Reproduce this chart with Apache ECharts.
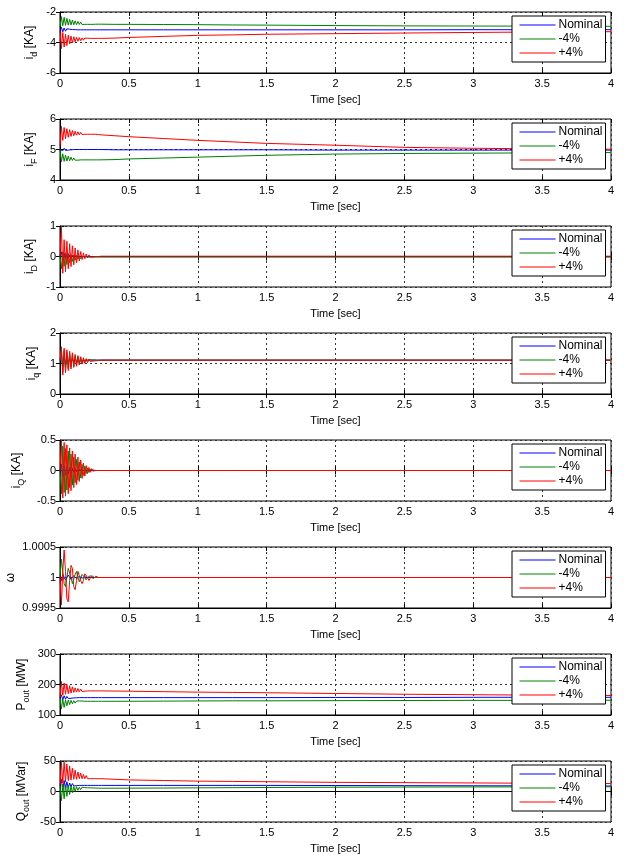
<!DOCTYPE html>
<html>
<head>
<meta charset="utf-8">
<script src="https://cdn.jsdelivr.net/npm/echarts@6/dist/echarts.min.js"></script>
<style>
  html, body { margin: 0; padding: 0; background: #fff; }
  #chart { width: 628px; height: 856px; }
</style>
</head>
<body>
<div id="chart"></div>
<script>
// sample times [s]: dense during the transient, coarse afterwards
const time = [
  0, 0.01, 0.02, 0.03, 0.04, 0.05, 0.06, 0.07, 0.08, 0.09, 0.10,
  0.11, 0.12, 0.13, 0.14, 0.15, 0.16, 0.17, 0.18, 0.19, 0.20,
  0.21, 0.22, 0.23, 0.24, 0.25, 0.26, 0.27, 0.28, 0.29, 0.30,
  0.4, 0.5, 0.75, 1, 1.25, 1.5, 2, 2.5, 3, 3.5, 4
]

const legendNames = ['Nominal', '-4%', '+4%']
const xTicks = [0, 0.5, 1, 1.5, 2, 2.5, 3, 3.5, 4]

// i_d [KA]
const idTicks = [-6, -4, -2]
const idNominal = [
  -3.2, -3.0, -3.3, -3.05, -3.26, -3.1, -3.22, -3.13, -3.2, -3.15, -3.18,
  -3.16, -3.17, -3.17, -3.17, -3.17, -3.17, -3.17, -3.17, -3.17, -3.17,
  -3.17, -3.17, -3.17, -3.17, -3.17, -3.17, -3.17, -3.17, -3.17, -3.17,
  -3.17, -3.17, -3.17, -3.17, -3.17, -3.17, -3.17, -3.17, -3.16, -3.16, -3.16
]
const idMinus = [
  -3.0, -2.3, -2.9, -2.35, -2.88, -2.42, -2.86, -2.48, -2.85, -2.53, -2.84,
  -2.58, -2.83, -2.62, -2.82, -2.66, -2.82, -2.7, -2.81, -2.72, -2.81,
  -2.74, -2.81, -2.76, -2.81, -2.77, -2.8, -2.78, -2.8, -2.79, -2.8,
  -2.81, -2.81, -2.82, -2.83, -2.85, -2.86, -2.89, -2.91, -2.92, -2.93, -2.94
]
const idPlus = [
  -3.2, -4.4, -3.35, -4.3, -3.45, -4.2, -3.52, -4.1, -3.58, -4.02, -3.62,
  -3.96, -3.66, -3.92, -3.68, -3.88, -3.7, -3.85, -3.71, -3.82, -3.72,
  -3.8, -3.73, -3.78, -3.73, -3.77, -3.73, -3.76, -3.73, -3.75, -3.73,
  -3.71, -3.67, -3.6, -3.53, -3.5, -3.46, -3.42, -3.38, -3.34, -3.31, -3.29
]

// i_F [KA]
const ifTicks = [4, 5, 6]
const ifNominal = [
  5.0, 5.06, 4.96, 5.04, 4.97, 5.02, 4.98, 5.01, 4.99, 5.0, 5.0,
  5.0, 5.0, 5.0, 5.0, 5.0, 5.0, 5.0, 5.0, 5.0, 5.0,
  5.0, 5.0, 5.0, 5.0, 5.0, 5.0, 5.0, 5.0, 5.0, 5.0,
  4.99, 4.99, 4.99, 4.99, 4.99, 4.99, 4.98, 4.98, 4.98, 4.98, 4.98
]
const ifMinus = [
  5.0, 4.6, 4.86, 4.61, 4.82, 4.62, 4.78, 4.63, 4.75, 4.64, 4.72,
  4.65, 4.7, 4.65, 4.69, 4.66, 4.68, 4.66, 4.67, 4.66, 4.67,
  4.66, 4.66, 4.66, 4.66, 4.66, 4.66, 4.66, 4.66, 4.66, 4.66,
  4.67, 4.69, 4.72, 4.75, 4.78, 4.81, 4.85, 4.87, 4.88, 4.89, 4.9
]
const ifPlus = [
  5.1, 5.76, 5.3, 5.72, 5.35, 5.68, 5.4, 5.65, 5.43, 5.62, 5.45,
  5.6, 5.47, 5.58, 5.48, 5.56, 5.49, 5.55, 5.5, 5.54, 5.5,
  5.53, 5.5, 5.52, 5.5, 5.51, 5.5, 5.5, 5.49, 5.49, 5.48,
  5.45, 5.42, 5.36, 5.3, 5.25, 5.2, 5.14, 5.07, 5.04, 5.02, 5.01
]

// i_D [KA]
const iDTicks = [-1, 0, 1]
const iDNominal = [
  0, 0.15, -0.12, 0.1, -0.09, 0.07, -0.06, 0.05, -0.04, 0.03, -0.02,
  0.02, -0.01, 0.01, 0, 0, 0, 0, 0, 0, 0,
  0, 0, 0, 0, 0, 0, 0, 0, 0, 0,
  0, 0, 0, 0, 0, 0, 0, 0, 0, 0, 0
]
const iDMinus = [
  0, -0.4, 0.15, -0.32, 0.12, -0.26, 0.1, -0.2, 0.07, -0.16, 0.05,
  -0.12, 0.03, -0.09, 0.02, -0.07, 0, -0.05, -0.01, -0.04, -0.02,
  -0.03, -0.02, -0.03, -0.02, -0.02, -0.02, -0.02, -0.02, -0.02, -0.02,
  -0.02, -0.02, -0.02, -0.02, -0.02, -0.02, -0.02, -0.02, -0.02, -0.02, -0.02
]
const iDPlus = [
  0, 1.0, -0.55, 0.55, -0.5, 0.5, -0.4, 0.42, -0.33, 0.35, -0.27,
  0.28, -0.2, 0.22, -0.15, 0.16, -0.1, 0.12, -0.07, 0.08, -0.04,
  0.05, -0.02, 0.03, -0.01, 0.02, 0, 0.01, 0, 0.01, 0.01,
  0.01, 0.01, 0.01, 0.01, 0.01, 0.01, 0.01, 0.01, 0.01, 0.01, 0.01
]

// i_q [KA]
const iqTicks = [0, 1, 2]
const iqNominal = [
  1.1, 1.3, 0.9, 1.26, 0.95, 1.22, 0.99, 1.18, 1.02, 1.15, 1.05,
  1.14, 1.07, 1.13, 1.08, 1.12, 1.09, 1.11, 1.1, 1.11, 1.11,
  1.11, 1.11, 1.11, 1.11, 1.11, 1.11, 1.11, 1.11, 1.11, 1.11,
  1.11, 1.11, 1.11, 1.11, 1.11, 1.11, 1.11, 1.11, 1.11, 1.11, 1.11
]
const iqMinus = [
  1.1, 1.45, 0.72, 1.42, 0.78, 1.37, 0.84, 1.32, 0.88, 1.28, 0.92,
  1.25, 0.95, 1.22, 0.98, 1.19, 1.01, 1.16, 1.03, 1.14, 1.05,
  1.13, 1.07, 1.12, 1.08, 1.12, 1.09, 1.11, 1.1, 1.11, 1.11,
  1.11, 1.11, 1.11, 1.11, 1.11, 1.11, 1.11, 1.11, 1.11, 1.11, 1.11
]
const iqPlus = [
  1.1, 1.55, 0.62, 1.5, 0.7, 1.45, 0.77, 1.4, 0.82, 1.35, 0.87,
  1.3, 0.91, 1.26, 0.95, 1.22, 0.98, 1.19, 1.01, 1.16, 1.03,
  1.14, 1.07, 1.13, 1.08, 1.12, 1.09, 1.12, 1.1, 1.11, 1.11,
  1.11, 1.11, 1.11, 1.11, 1.11, 1.11, 1.11, 1.11, 1.11, 1.11, 1.11
]

// i_Q [KA]
const iQTicks = [-0.5, 0, 0.5]
const iQNominal = [
  0, 0.1, -0.1, 0.08, -0.08, 0.06, -0.06, 0.05, -0.05, 0.04, -0.03,
  0.03, -0.02, 0.02, -0.01, 0.01, 0, 0, 0, 0, 0,
  0, 0, 0, 0, 0, 0, 0, 0, 0, 0,
  0, 0, 0, 0, 0, 0, 0, 0, 0, 0, 0
]
const iQMinus = [
  0, -0.38, 0.4, -0.36, 0.36, -0.32, 0.32, -0.28, 0.27, -0.24, 0.22,
  -0.2, 0.18, -0.16, 0.14, -0.12, 0.1, -0.08, 0.07, -0.05, 0.04,
  -0.03, 0.02, -0.01, 0.01, 0, 0, 0, 0, 0, 0,
  0, 0, 0, 0, 0, 0, 0, 0, 0, 0, 0
]
const iQPlus = [
  0, 0.5, -0.45, 0.46, -0.42, 0.42, -0.38, 0.37, -0.33, 0.32, -0.28,
  0.27, -0.23, 0.22, -0.18, 0.17, -0.13, 0.12, -0.09, 0.08, -0.05,
  0.05, -0.03, 0.03, -0.01, 0.01, 0, 0.01, 0, 0, 0,
  0, 0, 0, 0, 0, 0, 0, 0, 0, 0, 0
]

// omega [pu]
const wTicks = [0.9995, 1, 1.0005]
const wNominal = [
  1.0, 0.99995, 1.00005, 1.00005, 0.99996, 0.99996, 1.00004, 1.00004, 0.99997, 0.99997, 1.00003,
  1.00003, 0.99998, 0.99998, 1.00002, 1.00002, 0.99999, 0.99999, 1.00001, 1.00001, 1.0,
  1.0, 1.0, 1.0, 1.0, 1.0, 1.0, 1.0, 1.0, 1.0, 1.0,
  1.0, 1.0, 1.0, 1.0, 1.0, 1.0, 1.0, 1.0, 1.0, 1.0, 1.0
]
const wMinus = [
  1.0, 1.0003, 1.0001, 0.9999, 0.99985, 1.0, 1.00015, 1.00018, 1.0, 0.9999, 0.99992,
  1.00005, 1.0001, 1.0, 0.99993, 0.99995, 1.00005, 1.00006, 1.0, 0.99996, 1.0,
  1.00003, 1.00003, 1.0, 0.99998, 1.0, 1.00002, 1.0, 1.0, 1.0, 1.0,
  1.0, 1.0, 1.0, 1.0, 1.0, 1.0, 1.0, 1.0, 1.0, 1.0, 1.0
]
const wPlus = [
  1.0, 0.99955, 1.0001, 1.00045, 1.0001, 0.99965, 0.9996, 0.99995, 1.0002, 1.00015, 0.99985,
  0.9998, 0.99995, 1.0001, 1.0001, 0.99995, 0.9999, 0.99995, 1.00006, 1.00006, 1.0,
  0.99995, 0.99996, 1.00003, 1.00004, 1.0, 0.99998, 1.0, 1.00002, 1.0, 1.0,
  1.0, 1.0, 1.0, 1.0, 1.0, 1.0, 1.0, 1.0, 1.0, 1.0, 1.0
]

// P_out [MW]
const pTicks = [100, 200, 300]
const pNominal = [
  157, 166, 150, 163, 152, 161, 154, 160, 155, 159, 156,
  158, 156.5, 157.5, 157, 157, 157, 157, 157, 157, 157,
  157, 157, 157, 157, 157, 157, 157, 157, 157, 157,
  157, 157, 157, 157, 157, 157, 157.5, 157.5, 158, 158, 158
]
const pMinus = [
  157, 120, 152, 125, 150, 130, 149, 134, 148, 137, 147,
  139, 146, 141, 146, 142, 146, 143, 145, 144, 145,
  144, 145, 145, 145, 145, 145, 145, 145, 145, 145,
  145, 145, 145.5, 146, 146.5, 146.5, 147, 147.5, 148, 148, 148.5
]
const pPlus = [
  158, 210, 165, 205, 168, 200, 170, 196, 172, 192, 174,
  189, 175, 187, 176, 185, 177, 183, 178, 182, 179,
  181, 179, 180, 179, 180, 179, 179.5, 179, 179, 179,
  178.5, 178, 176.5, 175, 174, 173, 170.5, 168, 166.5, 165, 164
]

// Q_out [MVar]
const qTicks = [-50, 0, 50]
const qNominal = [
  10, 20, 2, 18, 4, 16, 6, 14, 8, 13, 9,
  12, 9.5, 11, 10, 10, 10, 10, 10, 10, 10,
  10, 10, 10, 10, 10, 10, 10, 10, 10, 10,
  10, 10, 10, 10, 10, 10, 9.8, 9.6, 9.4, 9.2, 9
]
const qMinus = [
  10, -15, 12, -12, 11, -8, 10, -5, 9, -2, 8,
  0, 8, 2, 7, 3, 7, 4, 6.5, 4.5, 6,
  5, 6, 5.2, 5.8, 5.3, 5.6, 5.4, 5.5, 5.4, 5.4,
  5.4, 5.5, 5.7, 6, 6.3, 6.6, 7, 7.3, 7.5, 7.6, 7.7
]
const qPlus = [
  10, 50, 14, 48, 16, 45, 18, 42, 19, 38, 20,
  35, 20, 32, 21, 30, 21, 28, 21, 26, 21,
  24, 21, 23, 21, 22, 21, 21.5, 21, 21, 21,
  20, 19, 18, 17, 16.5, 16, 15, 14.5, 14, 13.5, 13
]

// y labels: [symbol, subscript, unit]
const panels = [
  { label: ['i', 'd', ' [KA]'], ticks: idTicks, lines: [idNominal, idMinus, idPlus], gap: 21 },
  { label: ['i', 'F', ' [KA]'], ticks: ifTicks, lines: [ifNominal, ifMinus, ifPlus], gap: 21 },
  { label: ['i', 'D', ' [KA]'], ticks: iDTicks, lines: [iDNominal, iDMinus, iDPlus], gap: 21 },
  { label: ['i', 'q', ' [KA]'], ticks: iqTicks, lines: [iqNominal, iqMinus, iqPlus], gap: 19 },
  { label: ['i', 'Q', ' [KA]'], ticks: iQTicks, lines: [iQNominal, iQMinus, iQPlus], gap: 34 },
  { label: ['ω', '', ''], ticks: wTicks, lines: [wNominal, wMinus, wPlus], gap: 40 },
  { label: ['P', 'out', ' [MW]'], ticks: pTicks, lines: [pNominal, pMinus, pPlus], gap: 29 },
  { label: ['Q', 'out', ' [MVar]'], ticks: qTicks, lines: [qNominal, qMinus, qPlus], gap: 29 }
]

const colors = ['#0000ff', '#008000', '#ff0000']
const font = 'Liberation Sans, Arial, sans-serif'
const fmt = v => String(+v.toFixed(4))
const dotted = { show: true, lineStyle: { color: '#333', type: [2, 3], width: 1 } }
const inTick = { show: true, inside: true, length: 4, lineStyle: { color: '#000' } }

const chart = echarts.init(document.getElementById('chart'))

const grid = [], xAxis = [], yAxis = [], series = [], legend = []

panels.forEach((p, i) => {
  const top = 12 + i * 107
  const interval = p.ticks[1] - p.ticks[0]
  grid.push({
    left: 60, right: 17, top: top, height: 61,
    outerBoundsMode: 'none', containLabel: false,
    show: true, borderColor: '#000', borderWidth: 1, backgroundColor: '#fff'
  })
  // bottom axis with labels
  xAxis.push({
    gridIndex: i, type: 'value', position: 'bottom',
    min: xTicks[0], max: xTicks[xTicks.length - 1], interval: 0.5,
    name: 'Time [sec]', nameLocation: 'middle', nameGap: 21, nameMoveOverlap: false,
    nameTextStyle: { color: '#000', fontSize: 11, fontFamily: font },
    axisLine: { show: true, lineStyle: { color: '#000' } },
    axisTick: inTick,
    axisLabel: { color: '#000', fontSize: 11, fontFamily: font, margin: 5, formatter: fmt },
    splitLine: dotted
  })
  // top axis: ticks only
  xAxis.push({
    gridIndex: i, type: 'value', position: 'top',
    min: xTicks[0], max: xTicks[xTicks.length - 1], interval: 0.5,
    axisLine: { show: false }, axisTick: inTick,
    axisLabel: { show: false }, splitLine: { show: false }
  })
  const rich = {
    m: { fontSize: 12, fontFamily: font, color: '#000', lineHeight: 18 },
    s: { fontSize: 9, fontFamily: font, color: '#000', lineHeight: 9, verticalAlign: 'bottom' }
  }
  const name = p.label[1]
    ? `{m|${p.label[0]}}{s|${p.label[1]}}{m|${p.label[2]}}`
    : `{m|${p.label[0]}}`
  yAxis.push({
    gridIndex: i, type: 'value', position: 'left',
    min: p.ticks[0], max: p.ticks[2], interval: interval,
    name: name, nameLocation: 'middle', nameGap: p.gap, nameMoveOverlap: false,
    nameTextStyle: { rich: rich },
    axisLine: { show: true, lineStyle: { color: '#000' } },
    axisTick: inTick,
    axisLabel: { color: '#000', fontSize: 11, fontFamily: font, margin: 4, formatter: fmt },
    splitLine: dotted
  })
  yAxis.push({
    gridIndex: i, type: 'value', position: 'right',
    min: p.ticks[0], max: p.ticks[2], interval: interval,
    axisLine: { show: false }, axisTick: inTick,
    axisLabel: { show: false }, splitLine: { show: false }
  })
  p.lines.forEach((vals, k) => {
    series.push({
      name: legendNames[k], type: 'line',
      xAxisIndex: 2 * i, yAxisIndex: 2 * i,
      data: time.map((t, j) => [t, vals[j]]),
      symbol: 'none', silent: true,
      lineStyle: { color: colors[k], width: 1 },
      itemStyle: { color: colors[k] }
    })
  })
  legend.push({
    data: legendNames, orient: 'vertical',
    left: 512, top: top + 4,
    itemWidth: 36, itemHeight: 14, itemGap: 2,
    padding: [3, 3, 3, 7],
    borderColor: '#000', borderWidth: 1, backgroundColor: '#fff',
    selectedMode: false,
    itemStyle: { opacity: 0 },
    lineStyle: { width: 1 },
    textStyle: { color: '#000', fontSize: 12, fontFamily: font, padding: [0, 0, 0, -2] }
  })
})

chart.setOption({
  animation: false,
  backgroundColor: '#fff',
  grid, xAxis, yAxis, series, legend
})
</script>
</body>
</html>
